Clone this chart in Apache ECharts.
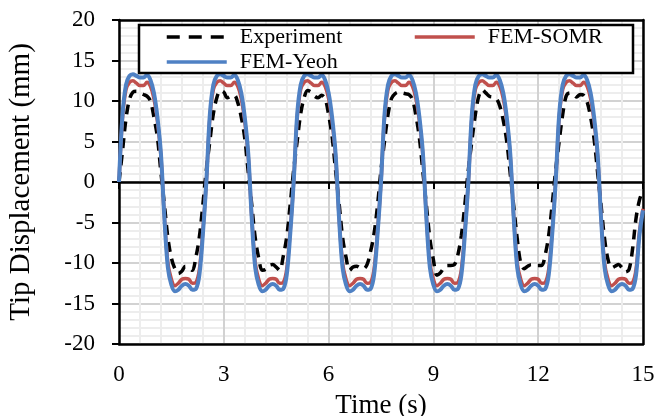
<!DOCTYPE html>
<html>
<head>
<meta charset="utf-8">
<script src="https://cdn.jsdelivr.net/npm/echarts@6/dist/echarts.min.js"></script>
<style>
html,body{margin:0;padding:0;background:#fff;}
#chart{width:657px;height:416px;}
</style>
</head>
<body>
<div id="chart"></div>
<script>
// Sampling step of the time axis (s); values below are read every 0.1 s from 0 to 15 s
const TIME_STEP = 0.1;

// Experiment (mm)
const experiment = [
  0, 3.8, 7.8, 10.2, 11.1, 11.2, 11.0, 10.8, 10.6, 10.0, 8.0, 5.5, 1.2, -2.8, -6.9, -9.4, -10.7, -11.3, -11.0, -10.4, -10.6, -10.9, -9.3, -6.8, -2.8,
  1.5, 5.0, 8.4, 10.4, 11.3, 11.1, 10.4, 10.6, 10.7, 9.8, 8.0, 5.4, 1.2, -2.8, -6.9, -9.4, -10.9, -10.8, -10.3, -10.2, -10.5, -10.9, -9.2, -6.8, -2.8,
  1.5, 5.0, 8.4, 10.4, 11.3, 11.1, 10.6, 10.4, 10.7, 10.3, 8.3, 5.6, 1.4, -2.6, -6.8, -9.3, -10.9, -10.5, -10.4, -10.6, -10.7, -10.2, -8.6, -6.4, -2.9,
  1.5, 5.0, 8.3, 10.3, 10.9, 11.1, 11.0, 10.9, 10.8, 10.2, 8.2, 5.4, 1.2, -2.9, -7.0, -9.6, -11.5, -11.2, -10.6, -10.3, -10.3, -10.2, -9.0, -6.6, -2.8,
  1.5, 5.0, 8.3, 10.6, 11.4, 11.0, 10.6, 10.5, 10.3, 9.4, 7.6, 5.0, 1.0, -3.0, -7.0, -10.0, -10.7, -10.4, -10.2, -10.3, -10.3, -10.3, -9.0, -6.6, -2.8,
  1.5, 5.0, 8.3, 10.6, 11.0, 10.8, 10.5, 10.8, 10.7, 9.9, 8.0, 5.3, 1.2, -2.9, -7.0, -9.6, -10.6, -10.4, -10.2, -10.6, -11.1, -10.8, -8.3, -4.5, -2.2,
  -1.0
];

// FEM-SOMR (mm)
const femSomr = [
  0, 7.9, 11.4, 12.3, 12.5, 12.2, 11.9, 11.9, 12.3, 11.8, 10.3, 7.5, 3.2, -4.3, -10.0, -12.0, -12.8, -12.5, -12.0, -11.9, -12.0, -12.5, -12.4, -10.8, -6.1,
  0, 7.9, 11.4, 12.3, 12.5, 12.2, 11.9, 11.9, 12.3, 11.8, 10.3, 7.5, 3.2, -4.3, -10.0, -12.0, -12.8, -12.5, -12.0, -11.9, -12.0, -12.5, -12.4, -10.8, -6.1,
  0, 7.9, 11.4, 12.3, 12.5, 12.2, 11.9, 11.9, 12.3, 11.8, 10.3, 7.5, 3.2, -4.3, -10.0, -12.0, -12.8, -12.5, -12.0, -11.9, -12.0, -12.5, -12.4, -10.8, -6.1,
  0, 7.9, 11.4, 12.3, 12.5, 12.2, 11.9, 11.9, 12.3, 11.8, 10.3, 7.5, 3.2, -4.3, -10.0, -12.0, -12.8, -12.5, -12.0, -11.9, -12.0, -12.5, -12.4, -10.8, -6.1,
  0, 7.9, 11.4, 12.3, 12.5, 12.2, 11.9, 11.9, 12.3, 11.8, 10.3, 7.5, 3.2, -4.3, -10.0, -12.0, -12.8, -12.5, -12.0, -11.9, -12.0, -12.5, -12.4, -10.8, -6.1,
  0, 7.9, 11.4, 12.3, 12.5, 12.2, 11.9, 11.9, 12.3, 11.8, 10.3, 7.5, 3.2, -4.3, -10.0, -12.0, -12.8, -12.5, -12.0, -11.9, -12.0, -12.5, -12.4, -10.8, -6.1,
  -3.3
];

// FEM-Yeoh (mm)
const femYeoh = [
  0, 8.3, 12.0, 13.1, 13.3, 13.1, 12.9, 12.9, 13.2, 12.6, 11.0, 8.0, 3.5, -4.5, -10.6, -12.7, -13.5, -13.3, -12.8, -12.6, -12.8, -13.3, -13.2, -11.5, -6.5,
  0, 8.3, 12.0, 13.1, 13.3, 13.1, 12.9, 12.9, 13.2, 12.6, 11.0, 8.0, 3.5, -4.5, -10.6, -12.7, -13.5, -13.3, -12.8, -12.6, -12.8, -13.3, -13.2, -11.5, -6.5,
  0, 8.3, 12.0, 13.1, 13.3, 13.1, 12.9, 12.9, 13.2, 12.6, 11.0, 8.0, 3.5, -4.5, -10.6, -12.7, -13.5, -13.3, -12.8, -12.6, -12.8, -13.3, -13.2, -11.5, -6.5,
  0, 8.3, 12.0, 13.1, 13.3, 13.1, 12.9, 12.9, 13.2, 12.6, 11.0, 8.0, 3.5, -4.5, -10.6, -12.7, -13.5, -13.3, -12.8, -12.6, -12.8, -13.3, -13.2, -11.5, -6.5,
  0, 8.3, 12.0, 13.1, 13.3, 13.1, 12.9, 12.9, 13.2, 12.6, 11.0, 8.0, 3.5, -4.5, -10.6, -12.7, -13.5, -13.3, -12.8, -12.6, -12.8, -13.3, -13.2, -11.5, -6.5,
  0, 8.3, 12.0, 13.1, 13.3, 13.1, 12.9, 12.9, 13.2, 12.6, 11.0, 8.0, 3.5, -4.5, -10.6, -12.7, -13.5, -13.3, -12.8, -12.6, -12.8, -13.3, -13.2, -11.5, -6.5,
  -3.5
];

const seriesNames = ['Experiment', 'FEM-SOMR', 'FEM-Yeoh'];
const xTicks = { min: 0, max: 15, interval: 3 };
const yTicks = { min: -20, max: 20, interval: 5 };

function pairs(values) {
  return values.map((v, i) => [Math.round(i * TIME_STEP * 10) / 10, v]);
}

const FONT = 'Liberation Serif';
const BORDER = { color: '#000', width: 2.5 };
const chart = echarts.init(document.getElementById('chart'), null, { renderer: 'canvas' });

function legendFor(name, left, top, lineStyle) {
  return {
    z: 100,
    data: [name],
    left: left, top: top,
    padding: 0,
    itemWidth: 60, itemHeight: 14,
    itemStyle: { opacity: 0 },
    lineStyle: lineStyle,
    textStyle: { fontFamily: FONT, fontSize: 22, color: '#000', padding: [0, 0, 0, 8] },
    selectedMode: false
  };
}

// frame-only axis (no ticks, labels or grid lines)
function frameAxis(extra) {
  return Object.assign({
    type: 'value',
    axisLine: { show: true, onZero: false, lineStyle: BORDER },
    axisTick: { show: false },
    axisLabel: { show: false },
    splitLine: { show: false }
  }, extra);
}

chart.setOption({
  animation: false,
  backgroundColor: '#fff',
  grid: {
    left: 119, right: 14, top: 20, bottom: 72,
    outerBoundsMode: 'none',
    containLabel: false,
    show: false
  },
  graphic: [{
    type: 'rect', z: 90,
    shape: { x: 139, y: 25, width: 494, height: 48 },
    style: { fill: '#fff', stroke: '#000', lineWidth: 2.5 }
  }],
  legend: [
    legendFor(seriesNames[0], 165, 26, { width: 3.5, type: [13, 9] }),
    legendFor(seriesNames[1], 413, 26, { width: 3.5 }),
    legendFor(seriesNames[2], 165, 51, { width: 3.5 })
  ],
  xAxis: [{
    type: 'value', min: xTicks.min, max: xTicks.max, interval: xTicks.interval,
    position: 'bottom',
    name: 'Time (s)', nameLocation: 'middle', nameGap: 48,
    nameTextStyle: { fontFamily: FONT, fontSize: 27, color: '#000' },
    axisLine: { show: true, onZero: false, lineStyle: BORDER },
    axisTick: { show: false },
    axisLabel: { fontFamily: FONT, fontSize: 23, color: '#000', margin: 19 },
    splitLine: { show: true, lineStyle: { color: '#d2d2d2', width: 2 } },
    minorTick: { show: false, splitNumber: 5 },
    minorSplitLine: { show: true, lineStyle: { color: '#ededed', width: 2 } }
  }, {
    type: 'value', min: xTicks.min, max: xTicks.max, interval: xTicks.interval,
    position: 'bottom',
    axisLine: { show: true, onZero: true, onZeroAxisIndex: 0, lineStyle: BORDER },
    axisTick: { show: true, inside: false, length: 7, lineStyle: { color: '#000', width: 2 } },
    axisLabel: { show: false },
    splitLine: { show: false }
  },
  frameAxis({ min: xTicks.min, max: xTicks.max, position: 'top' })
  ],
  yAxis: [{
    type: 'value', min: yTicks.min, max: yTicks.max, interval: yTicks.interval,
    position: 'left',
    name: 'Tip Displacement (mm)', nameLocation: 'middle', nameGap: 83,
    nameTextStyle: { fontFamily: FONT, fontSize: 29, color: '#000' },
    axisLine: { show: true, onZero: false, lineStyle: BORDER },
    axisTick: { show: true, inside: false, length: 7, lineStyle: { color: '#000', width: 2 } },
    axisLabel: { fontFamily: FONT, fontSize: 23, color: '#000', margin: 24 },
    splitLine: { show: true, lineStyle: { color: '#d2d2d2', width: 2 } },
    minorTick: { show: false, splitNumber: 5 },
    minorSplitLine: { show: true, lineStyle: { color: '#ededed', width: 2 } }
  },
  frameAxis({ min: yTicks.min, max: yTicks.max, position: 'right' })
  ],
  series: [{
    name: seriesNames[0], type: 'line', xAxisIndex: 0, yAxisIndex: 0, data: pairs(experiment),
    showSymbol: false, symbol: 'none', smooth: 0.35,
    lineStyle: { color: '#000', width: 3.5, type: [10, 7], cap: 'butt' },
    itemStyle: { color: '#000' }
  }, {
    name: seriesNames[1], type: 'line', xAxisIndex: 0, yAxisIndex: 0, data: pairs(femSomr),
    showSymbol: false, symbol: 'none', smooth: 0.35,
    lineStyle: { color: '#c0504d', width: 3.5 },
    itemStyle: { color: '#c0504d' }
  }, {
    name: seriesNames[2], type: 'line', xAxisIndex: 0, yAxisIndex: 0, data: pairs(femYeoh),
    showSymbol: false, symbol: 'none', smooth: 0.35,
    lineStyle: { color: '#4f81c4', width: 4 },
    itemStyle: { color: '#4f81c4' }
  }]
});
</script>
</body>
</html>
